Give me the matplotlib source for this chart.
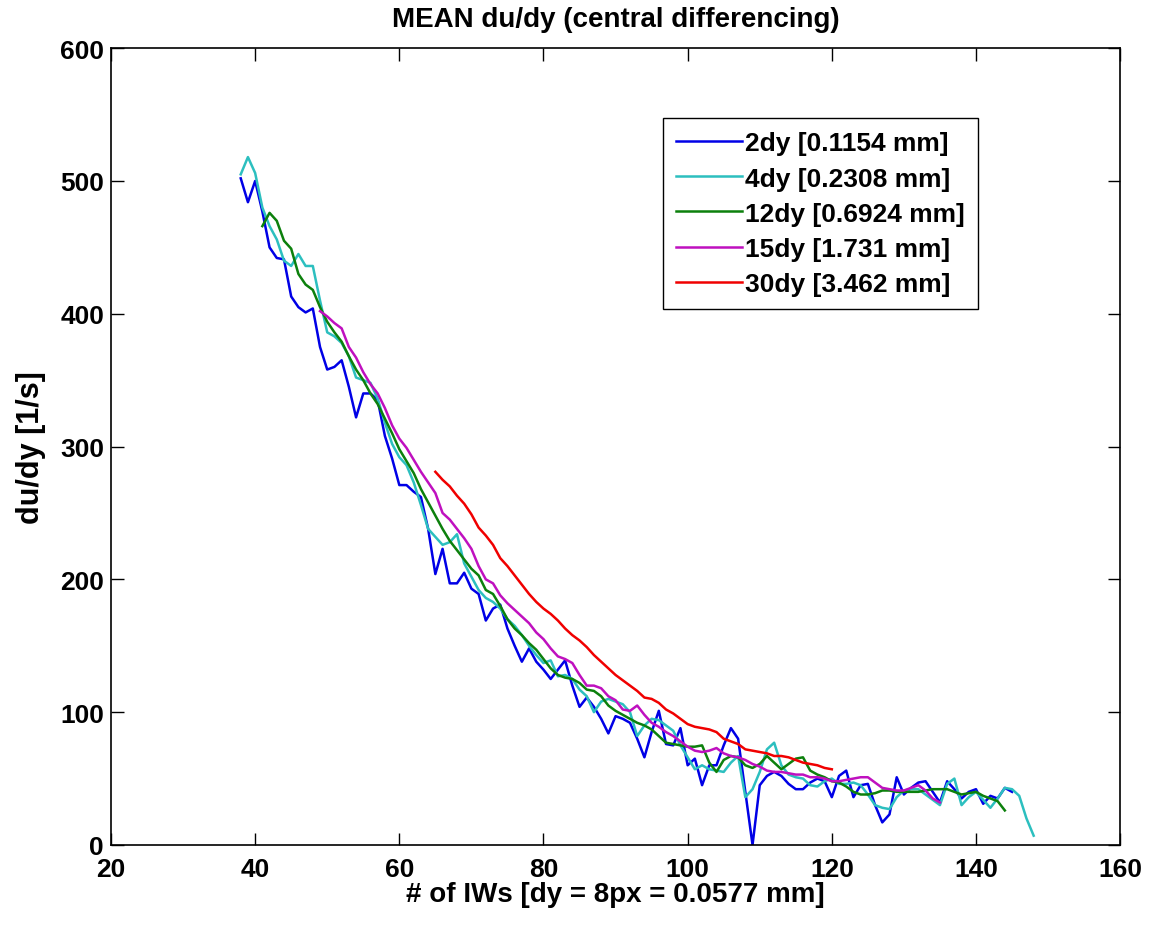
import matplotlib.pyplot as plt

plt.rcParams['font.family'] = ['Liberation Sans', 'DejaVu Sans']
plt.rcParams['font.weight'] = 'bold'

# 2dy
x_2dy = list(range(38, 146))
y_2dy = [502, 484, 500, 477, 450, 442, 441, 413, 405, 401,
         404, 375, 358, 360, 365, 345, 322, 340, 340, 335,
         308, 291, 271, 271, 266, 262, 238, 204, 223, 197,
         197, 205, 193, 189, 169, 178, 181, 163, 150, 138,
         148, 138, 132, 125, 132, 139, 120, 104, 111, 104,
         95, 84, 97, 95, 92, 80, 66, 85, 101, 76,
         75, 88, 60, 65, 45, 60, 60, 75, 88, 80,
         40, 0, 45, 52, 55, 52, 46, 42, 42, 47,
         50, 48, 36, 52, 56, 36, 45, 46, 30, 17,
         23, 51, 38, 43, 47, 48, 40, 32, 48, 42,
         35, 40, 42, 31, 37, 35, 43, 40]

# 4dy
x_4dy = list(range(38, 149))
y_4dy = [505, 518, 506, 480, 466, 456, 440, 436, 445, 436,
         436, 410, 386, 383, 378, 368, 352, 350, 348, 336,
         318, 302, 292, 286, 273, 256, 238, 232, 226, 228,
         234, 212, 202, 192, 186, 183, 178, 170, 165, 158,
         150, 143, 137, 139, 127, 128, 125, 117, 112, 100,
         108, 110, 108, 106, 100, 82, 90, 95, 94, 90,
         86, 75, 66, 57, 60, 57, 56, 55, 62, 67,
         36, 42, 55, 72, 77, 60, 53, 51, 50, 45,
         44, 48, 50, 46, 46, 47, 45, 38, 30, 28,
         27, 36, 41, 42, 42, 38, 34, 30, 46, 50,
         30, 36, 40, 34, 28, 35, 43, 42, 37, 20,
         7]

# 12dy
x_12dy = list(range(41, 145))
y_12dy = [466, 476, 470, 455, 449, 430, 422, 418, 405, 394,
          386, 379, 368, 358, 350, 340, 332, 321, 310, 298,
          289, 280, 268, 258, 248, 238, 229, 222, 215, 208,
          203, 192, 189, 180, 170, 163, 158, 152, 147, 140,
          133, 128, 126, 125, 122, 117, 116, 112, 105, 101,
          98, 95, 92, 90, 87, 82, 77, 76, 75, 74,
          74, 75, 62, 55, 64, 67, 66, 60, 58, 61,
          67, 62, 57, 61, 65, 66, 56, 53, 51, 48,
          47, 44, 40, 38, 38, 39, 41, 41, 40, 40,
          40, 40, 41, 42, 42, 42, 40, 38, 39, 40,
          37, 35, 33, 26]

# 15dy
x_15dy = list(range(49, 136))
y_15dy = [402, 398, 393, 389, 375, 367, 356, 347, 340, 329,
          316, 306, 299, 290, 281, 273, 265, 250, 245, 238,
          231, 223, 210, 200, 197, 188, 182, 177, 172, 167,
          160, 155, 148, 142, 140, 137, 128, 120, 120, 118,
          112, 109, 102, 101, 105, 98, 92, 89, 85, 82,
          78, 74, 71, 70, 71, 73, 69, 67, 66, 64,
          61, 59, 56, 55, 55, 54, 53, 53, 51, 51,
          50, 48, 48, 49, 50, 51, 51, 47, 43, 42,
          41, 41, 43, 45, 41, 35, 32]

# 30dy
x_30dy = list(range(65, 121))
y_30dy = [281, 275, 270, 263, 257, 249, 239, 233, 226, 216,
          210, 203, 196, 189, 183, 178, 174, 169, 163, 158,
          154, 149, 143, 138, 133, 128, 124, 120, 116, 111,
          110, 107, 102, 99, 95, 91, 89, 88, 87, 85,
          80, 78, 76, 72, 71, 70, 69, 67, 67, 66,
          64, 62, 61, 60, 58, 57]

labels = ['2dy [0.1154 mm]', '4dy [0.2308 mm]', '12dy [0.6924 mm]',
          '15dy [1.731 mm]', '30dy [3.462 mm]']
colors = ['#0000e6', '#2cbfbf', '#0c800c', '#bf10bf', '#f00000']

fig = plt.figure(figsize=(11.56, 9.28), dpi=100)
ax = fig.add_axes([0.096, 0.0884, 0.873, 0.8586])

series = [(x_2dy, y_2dy), (x_4dy, y_4dy), (x_12dy, y_12dy),
          (x_15dy, y_15dy), (x_30dy, y_30dy)]
for (xs, ys), lab, c in zip(series, labels, colors):
    ax.plot(xs, ys, color=c, lw=1.8, label=lab)

ax.set_xlim(20, 160)
ax.set_ylim(0, 600)
ax.set_xticks(range(20, 161, 20))
ax.set_yticks(range(0, 601, 100))
ax.tick_params(direction='in', length=9, width=1, top=True, right=True,
               labelsize=19)
ax.tick_params(axis='x', pad=9)
ax.tick_params(axis='y', pad=5)
for s in ax.spines.values():
    s.set_linewidth(1.2)

ax.set_title('MEAN du/dy (central differencing)', fontsize=20,
             fontweight='bold', pad=16)
ax.set_xlabel('# of IWs [dy = 8px = 0.0577 mm]', fontsize=20,
              fontweight='bold', labelpad=0)
ax.set_ylabel('du/dy [1/s]', fontsize=22, fontweight='bold', labelpad=10)

leg = ax.legend(loc='upper right', bbox_to_anchor=(0.859, 0.912),
                borderaxespad=0, fontsize=19, fancybox=False,
                edgecolor='black', handlelength=2.5, handletextpad=0.1,
                labelspacing=0.42, borderpad=0.5, framealpha=1)
leg.get_frame().set_linewidth(1)

fig.savefig('out.png', dpi=100)
